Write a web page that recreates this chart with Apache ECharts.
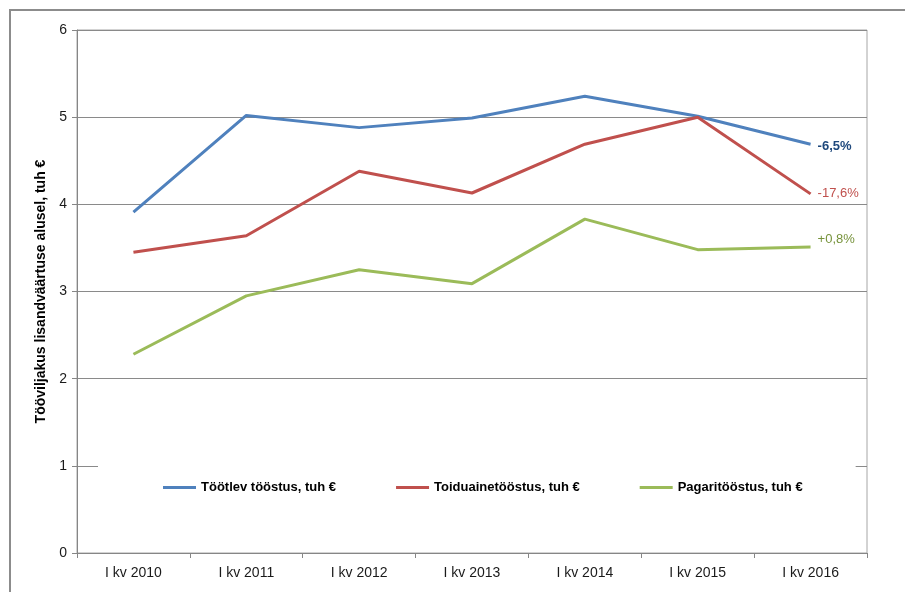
<!DOCTYPE html>
<html>
<head>
<meta charset="utf-8">
<script src="https://cdn.jsdelivr.net/npm/echarts@6/dist/echarts.min.js"></script>
<style>
  body { margin: 0; background: #fff; }
  #frame { position: absolute; left: 9px; top: 9px; width: 900px; height: 590px;
           border-left: 2px solid #8c8c8c; border-top: 2px solid #8c8c8c; }
  #main { position: absolute; left: 0; top: 0; width: 905px; height: 592px; }
</style>
</head>
<body>
<div id="frame"></div>
<div id="main"></div>
<script>
var categories = ['I kv 2010', 'I kv 2011', 'I kv 2012', 'I kv 2013', 'I kv 2014', 'I kv 2015', 'I kv 2016'];
var seriesNames = ['Töötlev tööstus, tuh €', 'Toiduainetööstus, tuh €', 'Pagaritööstus, tuh €'];
var tootlev = [3.91, 5.02, 4.88, 4.99, 5.24, 5.01, 4.69];
var toiduaine = [3.45, 3.64, 4.38, 4.13, 4.69, 5.00, 4.12];
var pagari = [2.28, 2.95, 3.25, 3.09, 3.83, 3.48, 3.51];
var changes = ['-6,5%', '-17,6%', '+0,8%'];

var lineColors = ['#4F81BD', '#C0504D', '#9BBB59'];
var labelColors = ['#1F497D', '#C0504D', '#77933C'];
var FONT = '"Liberation Sans", Arial, sans-serif';

var chart = echarts.init(document.getElementById('main'));

function makeSeries(i, data, bold, dy) {
    return {
        name: seriesNames[i],
        type: 'line',
        data: data,
        symbol: 'none',
        color: lineColors[i],
        lineStyle: { width: 3, color: lineColors[i] },
        endLabel: {
            show: true,
            formatter: changes[i],
            color: labelColors[i],
            fontFamily: FONT,
            fontSize: 13,
            fontWeight: bold ? 'bold' : 'normal',
            distance: 7,
            offset: [0, dy]
        }
    };
}

var option = {
    animation: false,
    backgroundColor: 'transparent',
    textStyle: { fontFamily: FONT },
    grid: {
        left: 77, top: 30, right: 38, bottom: 39,
        show: true, borderColor: '#a6a6a6', borderWidth: 1
    },
    legend: {
        left: 98,
        top: 461,
        padding: [20, 53, 20, 65],
        backgroundColor: '#fff',
        icon: 'rect',
        itemWidth: 33,
        itemHeight: 3,
        itemGap: 60,
        textStyle: { fontFamily: FONT, fontSize: 13, fontWeight: 'bold', color: '#000' },
        data: seriesNames
    },
    xAxis: {
        type: 'category',
        data: categories,
        boundaryGap: true,
        axisLine: { lineStyle: { color: '#868686', width: 1 } },
        axisTick: { show: true, length: 5, lineStyle: { color: '#868686' } },
        axisLabel: { color: '#1a1a1a', fontSize: 14, margin: 13, fontFamily: FONT }
    },
    yAxis: {
        type: 'value',
        min: 0,
        max: 6,
        interval: 1,
        name: 'Tööviljakus lisandväärtuse alusel, tuh €',
        nameLocation: 'middle',
        nameRotate: 90,
        nameGap: 28,
        nameTextStyle: { fontFamily: FONT, fontSize: 14, fontWeight: 'bold', color: '#000' },
        axisLine: { show: true, lineStyle: { color: '#868686', width: 1 } },
        axisTick: { show: true, length: 5, lineStyle: { color: '#868686' } },
        axisLabel: { color: '#1a1a1a', fontSize: 14, margin: 10, fontFamily: FONT },
        splitLine: { lineStyle: { color: '#8a8a8a', width: 1 } }
    },
    series: [
        makeSeries(0, tootlev, true, 2),
        makeSeries(1, toiduaine, false, 0),
        makeSeries(2, pagari, false, -8)
    ]
};

chart.setOption(option);
</script>
</body>
</html>
